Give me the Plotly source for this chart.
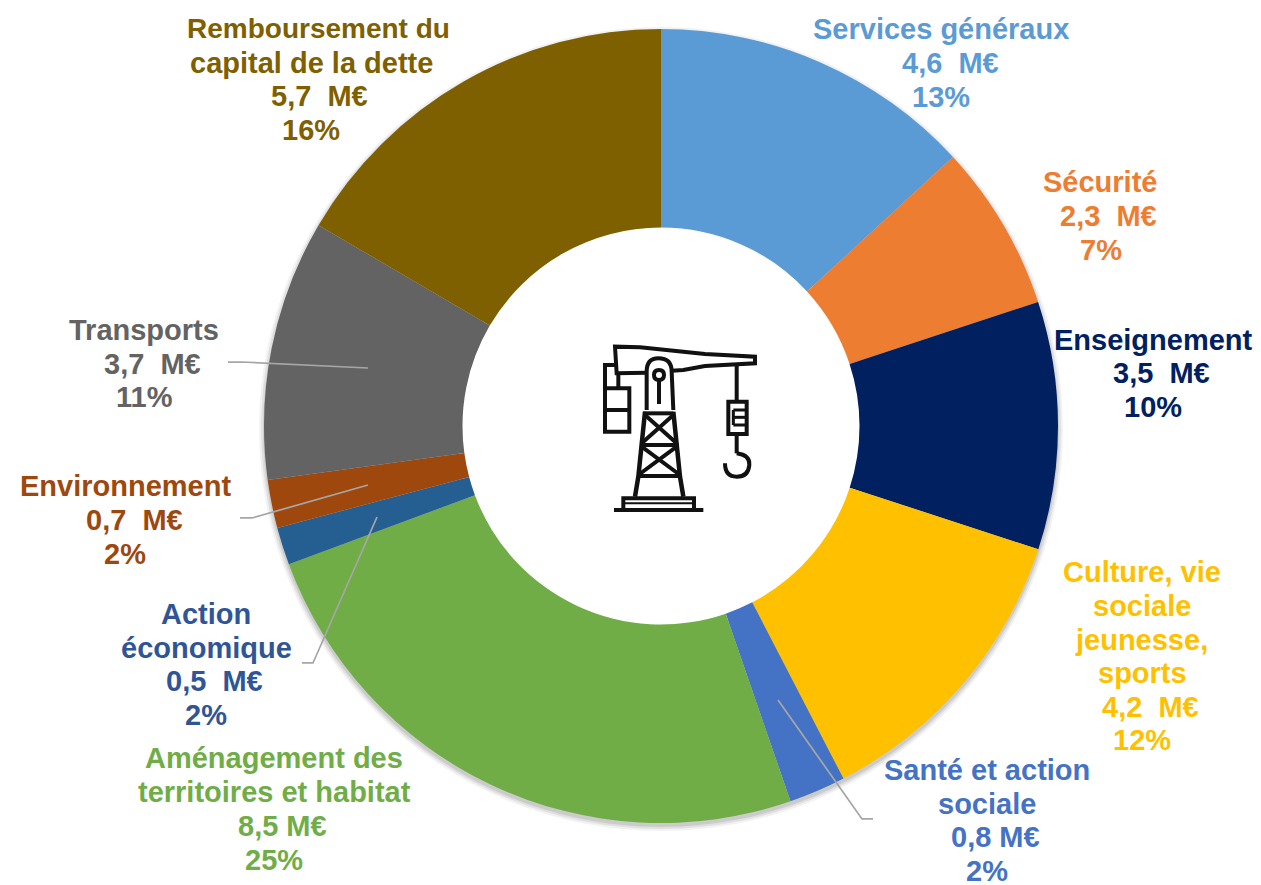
import re
import plotly.graph_objects as go

W, H = 1261, 885

# ---- data ----
categories = ["Services généraux", "Sécurité", "Enseignement",
              "Culture, vie sociale jeunesse, sports", "Santé et action sociale",
              "Aménagement des territoires et habitat", "Action économique",
              "Environnement", "Transports", "Remboursement du capital de la dette"]
# amounts in M€ (labels show them rounded)
values = [4.55, 2.35, 3.49, 4.28, 0.80, 8.52, 0.53, 0.68, 3.67, 5.73]
amount_labels = ["4,6  M€", "2,3  M€", "3,5  M€", "4,2  M€", "0,8 M€",
                 "8,5 M€", "0,5  M€", "0,7  M€", "3,7  M€", "5,7  M€"]
percent_labels = ["13%", "7%", "10%", "12%", "2%", "25%", "2%", "2%", "11%", "16%"]
name_lines = [["Services généraux"], ["Sécurité"], ["Enseignement"],
              ["Culture, vie", "sociale", "jeunesse,", "sports"],
              ["Santé et action", "sociale"],
              ["Aménagement des", "territoires et habitat"],
              ["Action", "économique"], ["Environnement"], ["Transports"],
              ["Remboursement du", "capital de la dette"]]

# ---- styling / layout ----
slice_colors = ["#5B9BD5", "#ED7D31", "#002060", "#FFC000", "#4472C4",
                "#70AD47", "#255E91", "#9E480E", "#636363", "#7F6000"]
label_colors = ["#5B9BD5", "#ED7D31", "#002060", "#FFC000", "#4472C4",
                "#70AD47", "#2F5597", "#9E480E", "#636363", "#7F6000"]
# pixel centre (x, y) of every text line in each label, in reading order
label_positions = [
    [(941, 29), (950, 63), (941, 97)],
    [(1100, 182), (1108, 216), (1101, 250)],
    [(1153, 340), (1161, 373), (1153, 407)],
    [(1142, 572), (1142, 606), (1141, 640), (1142, 673), (1150, 707), (1142, 740)],
    [(987, 770), (987, 804), (995, 837), (987, 871)],
    [(274, 758), (274, 792), (282, 826), (274, 860)],
    [(206, 614), (206, 648), (214, 681), (206, 715)],
    [(125, 486), (134, 520), (125, 554)],
    [(144, 330), (152, 364), (144, 397)],
    [(318, 29), (311, 63), (319, 96), (311, 130)],
]
CX, CY, R = 661, 426, 397
FONT = "Liberation Sans"
FONT_SIZE = 29
SIZE_OVERRIDES = {"Remboursement du": 28}


def px(x):
    return x / W


def py(y):
    return 1 - y / H


def path_from_px(d):
    """Translate an SVG path in pixels into paper coordinates."""
    toks = re.findall(r"[MLQZ]|-?[\d.]+", d)
    res, is_x = [], True
    for t in toks:
        if t in "MLQZ":
            res.append(t)
            is_x = True
        else:
            v = float(t)
            res.append(f"{px(v) if is_x else py(v):.5f}")
            is_x = not is_x
    return " ".join(res)


def icon(d):
    """Icon path given in coordinates of a 3x crop whose corner is (590, 330)."""
    toks = re.findall(r"[MLQZ]|-?[\d.]+", d)
    conv, is_x = [], True
    for t in toks:
        if t in "MLQZ":
            conv.append(t)
            is_x = True
        else:
            conv.append(f"{590 + float(t) / 3:.2f}" if is_x else f"{330 + float(t) / 3:.2f}")
            is_x = not is_x
    return " ".join(conv)


fig = go.Figure(go.Pie(
    labels=categories, values=values, hole=0.5, sort=False, direction="clockwise",
    rotation=0, textinfo="none", showlegend=False, hoverinfo="label+value+percent",
    marker=dict(colors=slice_colors, line=dict(width=0)),
    domain=dict(x=[px(CX - R), px(CX + R)], y=[py(CY + R), py(CY - R)]),
))

annotations = []
for i, lines in enumerate(name_lines):
    texts = lines + [amount_labels[i], percent_labels[i]]
    for text, (x, y) in zip(texts, label_positions[i]):
        annotations.append(dict(
            text=f"<b>{text.replace('  ', '&nbsp; ')}</b>", x=px(x), y=py(y),
            xref="paper", yref="paper", xanchor="center", yanchor="middle",
            showarrow=False,
            font=dict(family=FONT, size=SIZE_OVERRIDES.get(text, FONT_SIZE),
                      color=label_colors[i])))

shapes = []

# soft shadow under the ring, then a white disc so the hole stays clean
for grow, op in [(5, 0.05), (3, 0.07), (1, 0.09)]:
    shapes.append(dict(type="circle", xref="paper", yref="paper", layer="below",
                       x0=px(CX - R - grow), x1=px(CX + R + grow),
                       y0=py(CY + 3 + R + grow), y1=py(CY + 3 - R - grow),
                       line=dict(width=0), fillcolor=f"rgba(0,0,0,{op})"))
shapes.append(dict(type="circle", xref="paper", yref="paper", layer="below",
                   x0=px(CX - R * 0.52), x1=px(CX + R * 0.52),
                   y0=py(CY + R * 0.52), y1=py(CY - R * 0.52),
                   line=dict(width=0), fillcolor="white"))

# leader lines
for d in ["M228 362 L242 362 L368 368",
          "M240 518 L252 518 L368 485",
          "M302 663 L313 663 L377 517",
          "M778 700 L862 819 L873 819"]:
    shapes.append(dict(type="path", xref="paper", yref="paper", path=path_from_px(d),
                       line=dict(color="#A6A6A6", width=1.75)))

# crane pictogram
icon_paths = [
    ("M170 128 L80 130 L75 50 L150 52 L345 72 L495 80 L495 100 L345 108 L280 120 L245 122", 4),
    ("M170 240 L170 125 Q170 85 205 85 Q245 85 245 125 L250 240", 4),
    ("M207 120 Q222 120 222 135 Q222 150 207 150 Q192 150 192 135 Q192 120 207 120 Z", 4),
    ("M207 150 L207 222", 4),
    ("M165 245 L145 440 L135 500", 4.5),
    ("M250 245 L270 440 L280 500", 4.5),
    ("M160 250 L250 250", 4),
    ("M150 345 L265 345", 4),
    ("M145 438 L272 438", 4),
    ("M165 255 L260 340", 4),
    ("M250 255 L155 340", 4),
    ("M155 350 L270 435", 4),
    ("M260 350 L145 435", 4),
    ("M100 535 L100 505 L312 505 L312 535", 4),
    ("M105 520 L310 520", 2),
    ("M72 540 L340 540", 4),
    ("M80 105 L45 105 L45 305 L118 305 L118 175 L50 175", 4),
    ("M48 240 L118 240", 4),
    ("M85 130 L85 175", 4),
    ("M440 105 L440 215", 4),
    ("M415 215 L470 215 L470 312 L415 312 Z", 4),
    ("M430 240 L470 240", 3),
    ("M430 262 L470 262", 3),
    ("M430 285 L470 285", 3),
    ("M430 240 L430 285", 3),
    ("M440 312 L440 370", 4),
    ("M440 370 Q480 375 478 405 Q475 440 440 440 Q405 440 405 400", 4),
]
for d, w in icon_paths:
    shapes.append(dict(type="path", xref="paper", yref="paper",
                       path=path_from_px(icon(d)), line=dict(color="#111111", width=w)))

fig.update_layout(
    width=W, height=H, margin=dict(l=0, r=0, t=0, b=0, pad=0),
    paper_bgcolor="white", plot_bgcolor="white", showlegend=False,
    annotations=annotations, shapes=shapes,
    font=dict(family=FONT, size=FONT_SIZE),
)

fig.write_html("out.html", config={"displayModeBar": False},
               post_script="document.body.style.margin='0';document.documentElement.style.overflow='hidden';")
